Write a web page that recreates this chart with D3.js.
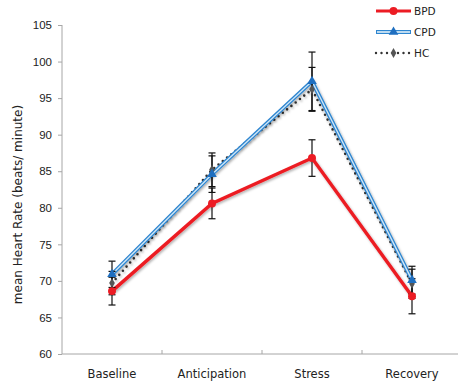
<!DOCTYPE html>
<html lang="en">
<head>
<meta charset="UTF-8">
<title>Heart rate</title>
<script src="https://d3js.org/d3.v7.min.js"></script>
<style>
  body { margin: 0; background: #fff; }
  svg { display: block; font-family: 'DejaVu Sans', Verdana, sans-serif; }
  .axis path, .axis line { stroke: #a6a6a6; }
  .axis text { fill: #222; font-size: 11.5px; }
</style>
</head>
<body>
<svg id="chart" width="458" height="385"></svg>
<script>
// phases on the x axis
const phases = ["Baseline", "Anticipation", "Stress", "Recovery"];
const yTicks = [60, 65, 70, 75, 80, 85, 90, 95, 100, 105];

// group means and error
const bpdMean = [68.6, 80.6, 86.8, 67.9];
const bpdErr  = [1.9, 2.1, 2.5, 2.4];
const cpdMean = [70.9, 84.6, 97.3, 70.1];
const cpdErr  = [1.8, 2.5, 4.0, 1.9];
const hcMean  = [69.7, 85.2, 96.2, 69.6];
const hcErr   = [1.6, 2.3, 3.0, 2.0];

const series = [
  { name: "HC",  mean: hcMean,  err: hcErr },
  { name: "CPD", mean: cpdMean, err: cpdErr },
  { name: "BPD", mean: bpdMean, err: bpdErr }
];

const svg = d3.select('#chart');
const plotLeft = 62, plotTop = 25, plotBottom = 354, plotRight = 462;

const x = d3.scaleBand().domain(phases).range([plotLeft, plotRight]);
const y = d3.scaleLinear().domain([60, 105]).range([plotBottom, plotTop]);
const cx = d => x(d) + x.bandwidth() / 2;

const defs = svg.append('defs');
const f = defs.append('filter').attr('id', 'shadow')
  .attr('x', '-10%').attr('y', '-10%').attr('width', '130%').attr('height', '130%');
f.append('feDropShadow').attr('dx', 1.2).attr('dy', 1.5)
  .attr('stdDeviation', 1).attr('flood-color', '#000').attr('flood-opacity', 0.3);

// axes
svg.append('g').attr('class', 'axis')
  .attr('transform', `translate(${plotLeft},0)`)
  .call(d3.axisLeft(y).tickValues(yTicks).tickSize(4).tickPadding(6))
  .call(g => g.select('.domain').attr('d', `M0,${plotTop}V${plotBottom}`));

const xAxis = svg.append('g').attr('class', 'axis')
  .attr('transform', `translate(0,${plotBottom})`);
xAxis.append('line').attr('x1', plotLeft).attr('x2', plotRight).attr('y1', 0).attr('y2', 0);
xAxis.selectAll('line.tk').data(phases.slice(1)).join('line').attr('class', 'tk')
  .attr('x1', d => x(d)).attr('x2', d => x(d)).attr('y1', -4).attr('y2', 0);
xAxis.selectAll('text').data(phases).join('text')
  .attr('x', d => cx(d)).attr('y', 24).attr('text-anchor', 'middle')
  .text(d => d);

svg.append('text')
  .attr('transform', `translate(22,${(plotTop + plotBottom) / 2 + 15}) rotate(-90)`)
  .attr('text-anchor', 'middle').attr('font-size', 12).attr('fill', '#222')
  .text('mean Heart Rate (beats/ minute)');

const line = d3.line().x((d, i) => cx(phases[i])).y(d => y(d));

// lines
svg.append('path').attr('d', line(hcMean)).attr('fill', 'none')
  .attr('stroke', '#333').attr('stroke-width', 2.6).attr('stroke-linecap', 'round')
  .attr('stroke-dasharray', '0 5.5').attr('filter', 'url(#shadow)');
svg.append('path').attr('d', line(cpdMean)).attr('fill', 'none')
  .attr('stroke', '#2f86d0').attr('stroke-width', 4).attr('filter', 'url(#shadow)');
svg.append('path').attr('d', line(cpdMean)).attr('fill', 'none')
  .attr('stroke', '#cfe6f7').attr('stroke-width', 1.4);
svg.append('path').attr('d', line(bpdMean)).attr('fill', 'none')
  .attr('stroke', '#ec1c24').attr('stroke-width', 3.4).attr('filter', 'url(#shadow)');

// error bars
series.forEach(s => {
  const g = svg.append('g').attr('stroke', '#111').attr('stroke-width', 1.2);
  s.mean.forEach((m, i) => {
    const px = cx(phases[i]);
    g.append('line').attr('x1', px).attr('x2', px).attr('y1', y(m - s.err[i])).attr('y2', y(m + s.err[i]));
    [m - s.err[i], m + s.err[i]].forEach(v => {
      g.append('line').attr('x1', px - 3.5).attr('x2', px + 3.5).attr('y1', y(v)).attr('y2', y(v));
    });
  });
});

// markers
const marker = {
  HC:  { sym: d3.symbolDiamond, size: 28, fill: '#555' },
  CPD: { sym: d3.symbolTriangle, size: 40, fill: '#1f6fc0' },
  BPD: { sym: d3.symbolCircle, size: 50, fill: '#ec1c24' }
};
series.forEach(s => {
  const mk = marker[s.name];
  svg.append('g').selectAll('path').data(s.mean).join('path')
    .attr('d', d3.symbol(mk.sym, mk.size))
    .attr('transform', (d, i) => `translate(${cx(phases[i])},${y(d)})`)
    .attr('fill', mk.fill);
});

// legend
const legend = svg.append('g').attr('font-size', 10.5).attr('fill', '#222');
["BPD", "CPD", "HC"].forEach((name, i) => {
  const ly = 11 + i * 21;
  const g = legend.append('g');
  if (name === 'BPD') {
    g.append('line').attr('x1', 376).attr('x2', 411).attr('y1', ly).attr('y2', ly)
      .attr('stroke', '#ec1c24').attr('stroke-width', 3.2);
  } else if (name === 'CPD') {
    g.append('line').attr('x1', 376).attr('x2', 411).attr('y1', ly).attr('y2', ly)
      .attr('stroke', '#2f86d0').attr('stroke-width', 4);
    g.append('line').attr('x1', 377).attr('x2', 410).attr('y1', ly).attr('y2', ly)
      .attr('stroke', '#eef7fd').attr('stroke-width', 1.6);
  } else {
    g.append('line').attr('x1', 376).attr('x2', 411).attr('y1', ly).attr('y2', ly)
      .attr('stroke', '#333').attr('stroke-width', 2.4).attr('stroke-linecap', 'round')
      .attr('stroke-dasharray', '0 5.5');
  }
  const mk = marker[name];
  g.append('path').attr('d', d3.symbol(mk.sym, mk.size)).attr('transform', `translate(393.5,${ly})`)
    .attr('fill', mk.fill);
  g.append('text').attr('x', 414).attr('y', ly + 4).text(name);
});
</script>
</body>
</html>
